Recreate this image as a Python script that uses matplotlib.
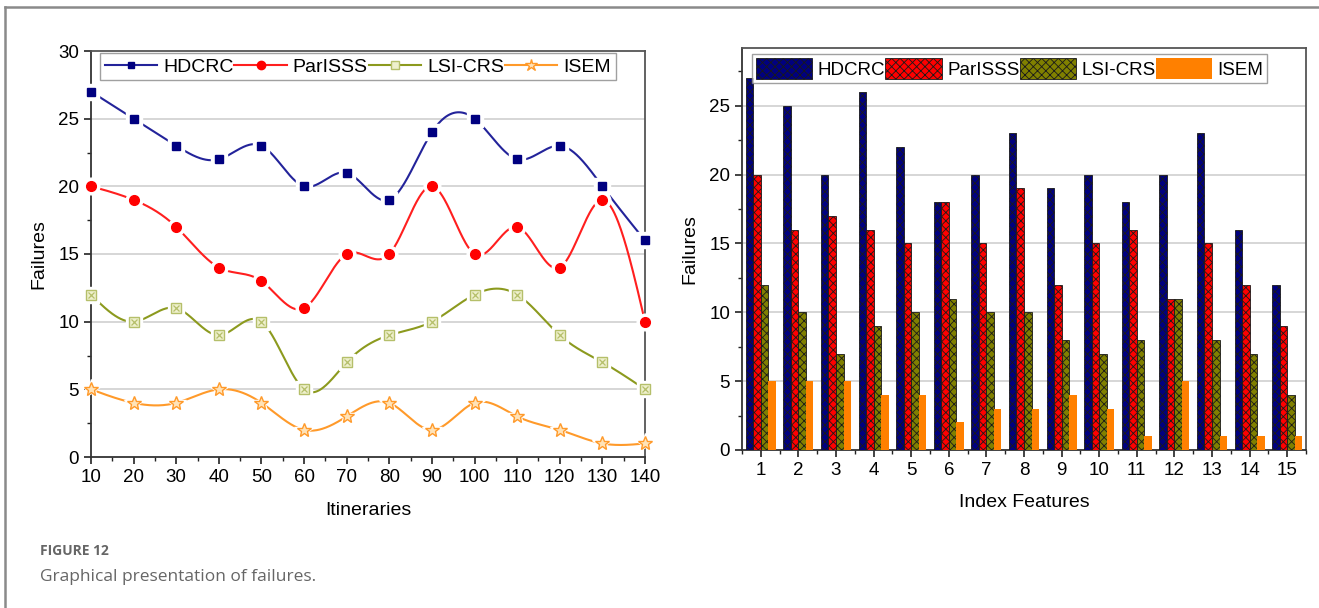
import numpy as np
import matplotlib
matplotlib.use("Agg")
import matplotlib.pyplot as plt
from matplotlib.lines import Line2D
from matplotlib.patches import Patch
from matplotlib.ticker import MultipleLocator

plt.rcParams['font.family'] = ['Liberation Sans', 'DejaVu Sans']
plt.rcParams['hatch.linewidth'] = 0.6

# ---------------- data ----------------
itineraries = [10, 20, 30, 40, 50, 60, 70, 80, 90, 100, 110, 120, 130, 140]
line_hdcrc = [27, 25, 23, 22, 23, 20, 21, 19, 24, 25, 22, 23, 20, 16]
line_parisss = [20, 19, 17, 14, 13, 11, 15, 15, 20, 15, 17, 14, 19, 10]
line_lsicrs = [12, 10, 11, 9, 10, 5, 7, 9, 10, 12, 12, 9, 7, 5]
line_isem = [5, 4, 4, 5, 4, 2, 3, 4, 2, 4, 3, 2, 1, 1]

features = list(range(1, 16))
bar_hdcrc = [27, 25, 20, 26, 22, 18, 20, 23, 19, 20, 18, 20, 23, 16, 12]
bar_parisss = [20, 16, 17, 16, 15, 18, 15, 19, 12, 15, 16, 11, 15, 12, 9]
bar_lsicrs = [12, 10, 7, 9, 10, 11, 10, 10, 8, 7, 8, 11, 8, 7, 4]
bar_isem = [5, 5, 5, 4, 4, 2, 3, 3, 4, 3, 1, 5, 1, 1, 1]

series_names = ["HDCRC", "ParISSS", "LSI-CRS", "ISEM"]


def natural_spline(x, y, n=600):
    x = np.asarray(x, float)
    y = np.asarray(y, float)
    k = len(x)
    h = np.diff(x)
    A = np.zeros((k, k))
    b = np.zeros(k)
    A[0, 0] = 1
    A[-1, -1] = 1
    for i in range(1, k - 1):
        A[i, i - 1] = h[i - 1]
        A[i, i] = 2 * (h[i - 1] + h[i])
        A[i, i + 1] = h[i]
        b[i] = 6 * ((y[i + 1] - y[i]) / h[i] - (y[i] - y[i - 1]) / h[i - 1])
    M = np.linalg.solve(A, b)
    xs = np.linspace(x[0], x[-1], n)
    idx = np.clip(np.searchsorted(x, xs) - 1, 0, k - 2)
    x0, x1 = x[idx], x[idx + 1]
    hh = x1 - x0
    t0 = x1 - xs
    t1 = xs - x0
    ys = (M[idx] * t0 ** 3 / (6 * hh) + M[idx + 1] * t1 ** 3 / (6 * hh)
          + (y[idx] / hh - M[idx] * hh / 6) * t0
          + (y[idx + 1] / hh - M[idx + 1] * hh / 6) * t1)
    return xs, ys


fig = plt.figure(figsize=(13.19, 6.08), dpi=100)

# figure frame lines
fig.add_artist(Line2D([5 / 1319, 1], [1 - 7 / 608, 1 - 7 / 608], color='#8a8a8a', lw=1.8))
fig.add_artist(Line2D([5 / 1319, 5 / 1319], [0, 1 - 7 / 608], color='#8a8a8a', lw=1.8))

# ---------------- left chart ----------------
ax1 = fig.add_axes([91 / 1319, 1 - 457 / 608, 554 / 1319, 406 / 608])
line_styles = [
    dict(color='#23239a', mfc='#000080', mec='#000080', marker='s', ms=6),
    dict(color='#ff1f1f', mfc='#ff0000', mec='#ff0000', marker='o', ms=7),
    dict(color='#8c9a1e', mfc='#eef0cc', mec='#b5bf6a', marker='s', ms=7),
    dict(color='#ff9a2a', mfc='#ffe3b8', mec='#ff9a2a', marker='*', ms=10),
]
for vals, st in zip([line_hdcrc, line_parisss, line_lsicrs, line_isem], line_styles):
    xs, ys = natural_spline(itineraries, vals)
    ax1.plot(xs, ys, color=st['color'], lw=1.5, zorder=3, clip_on=False)
    ax1.plot(itineraries, vals, ls='none', marker=st['marker'], ms=st['ms'] + 5,
             mfc='white', mec='white', zorder=4, clip_on=False)
    ax1.plot(itineraries, vals, ls='none', marker=st['marker'], ms=st['ms'],
             mfc=st['mfc'], mec=st['mec'], mew=1.0, zorder=5, clip_on=False)
    if st['mfc'] == '#eef0cc':
        ax1.plot(itineraries, vals, ls='none', marker='x', ms=4.5,
                 mec='#b5bf6a', mew=0.9, zorder=6, clip_on=False)

ax1.set_xlim(10, 140)
ax1.set_ylim(0, 30)
ax1.set_xticks(itineraries)
ax1.xaxis.set_minor_locator(MultipleLocator(5))
ax1.yaxis.set_major_locator(MultipleLocator(5))
ax1.yaxis.set_minor_locator(MultipleLocator(2.5))
ax1.tick_params(axis='both', which='major', direction='out', length=5, width=1.2,
                labelsize=13.5, colors='#222222', labelcolor='black')
ax1.tick_params(axis='both', which='minor', direction='out', length=3, width=1.0, colors='#222222')
for y in [5, 10, 15, 20, 25]:
    ax1.axhline(y, color='#cfcfcf', lw=1.2, zorder=1)
for sp in ax1.spines.values():
    sp.set_color('#333333')
    sp.set_linewidth(1.3)
ax1.spines['top'].set_color('#555555')
ax1.spines['right'].set_color('#555555')
ax1.set_xlabel("Itineraries", fontsize=14, labelpad=12)
ax1.set_ylabel("Failures", fontsize=14, labelpad=8)

handles1 = []
for name, st in zip(series_names, line_styles):
    handles1.append(Line2D([], [], color=st['color'], lw=1.5, marker=st['marker'],
                           ms=st['ms'] - 1, mfc=st['mfc'], mec=st['mec']))
leg1 = ax1.legend(handles1, series_names, loc='upper left', bbox_to_anchor=(0.016, 0.995),
                  ncol=4, fontsize=14, frameon=True, fancybox=False, handlelength=2.7,
                  handletextpad=0.3, columnspacing=0.05, borderpad=0.25, borderaxespad=0)
leg1.get_frame().set_edgecolor('#888888')
leg1.get_frame().set_linewidth(1.0)

# ---------------- right chart ----------------
ax2 = fig.add_axes([742 / 1319, 1 - 450 / 608, 564 / 1319, 402 / 608])
bw = 0.2
bar_colors = ['#000080', '#ff0000', '#808000', '#ff8000']
bar_hatches = ['xxxx', 'xxxx', 'xxxx', None]
x = np.array(features, float)
for i, (vals, c, h) in enumerate(zip([bar_hdcrc, bar_parisss, bar_lsicrs, bar_isem],
                                     bar_colors, bar_hatches)):
    ax2.bar(x + (i - 1.5) * bw, vals, width=bw, color=c,
            edgecolor='#1a1a1a' if h else c, linewidth=0.6 if h else 0,
            hatch=h, zorder=3)

ax2.set_xlim(0.5, 15.5)
ax2.set_ylim(0, 29.2)
ax2.set_xticks(features)
ax2.xaxis.set_minor_locator(MultipleLocator(0.5))
ax2.yaxis.set_major_locator(MultipleLocator(5))
ax2.yaxis.set_minor_locator(MultipleLocator(2.5))
ax2.tick_params(axis='both', which='major', direction='out', length=5, width=1.2,
                labelsize=13.5, colors='#222222', labelcolor='black')
ax2.tick_params(axis='both', which='minor', direction='out', length=3, width=1.0, colors='#222222')
for y in [5, 10, 15, 20, 25]:
    ax2.axhline(y, color='#cfcfcf', lw=1.2, zorder=1)
for sp in ax2.spines.values():
    sp.set_color('#333333')
    sp.set_linewidth(1.3)
ax2.spines['top'].set_color('#555555')
ax2.spines['right'].set_color('#555555')
ax2.set_xlabel("Index Features", fontsize=14, labelpad=11)
ax2.set_ylabel("Failures", fontsize=14, labelpad=8)

handles2 = []
for c, h in zip(bar_colors, bar_hatches):
    handles2.append(Patch(facecolor=c, edgecolor='#1a1a1a' if h else c,
                          linewidth=0.6 if h else 0, hatch=h))
leg2 = ax2.legend(handles2, series_names, loc='upper left', bbox_to_anchor=(0.018, 0.985),
                  ncol=4, fontsize=13.5, frameon=True, fancybox=False, handlelength=3.0,
                  handleheight=1.4, handletextpad=0.3, columnspacing=0.0, borderpad=0.2,
                  borderaxespad=0)
leg2.get_frame().set_edgecolor('#888888')
leg2.get_frame().set_linewidth(1.0)

# ---------------- caption ----------------
fig.text(40 / 1319, 1 - 551 / 608, "FIGURE 12", fontsize=10, fontweight='bold',
         color='#666666', family=['Open Sans', 'DejaVu Sans'], va='center', ha='left')
fig.text(40 / 1319, 1 - 577 / 608, "Graphical presentation of failures.", fontsize=12.5,
         color='#666666', family=['Open Sans', 'DejaVu Sans'], va='center', ha='left')

fig.savefig("out.png", dpi=100)
